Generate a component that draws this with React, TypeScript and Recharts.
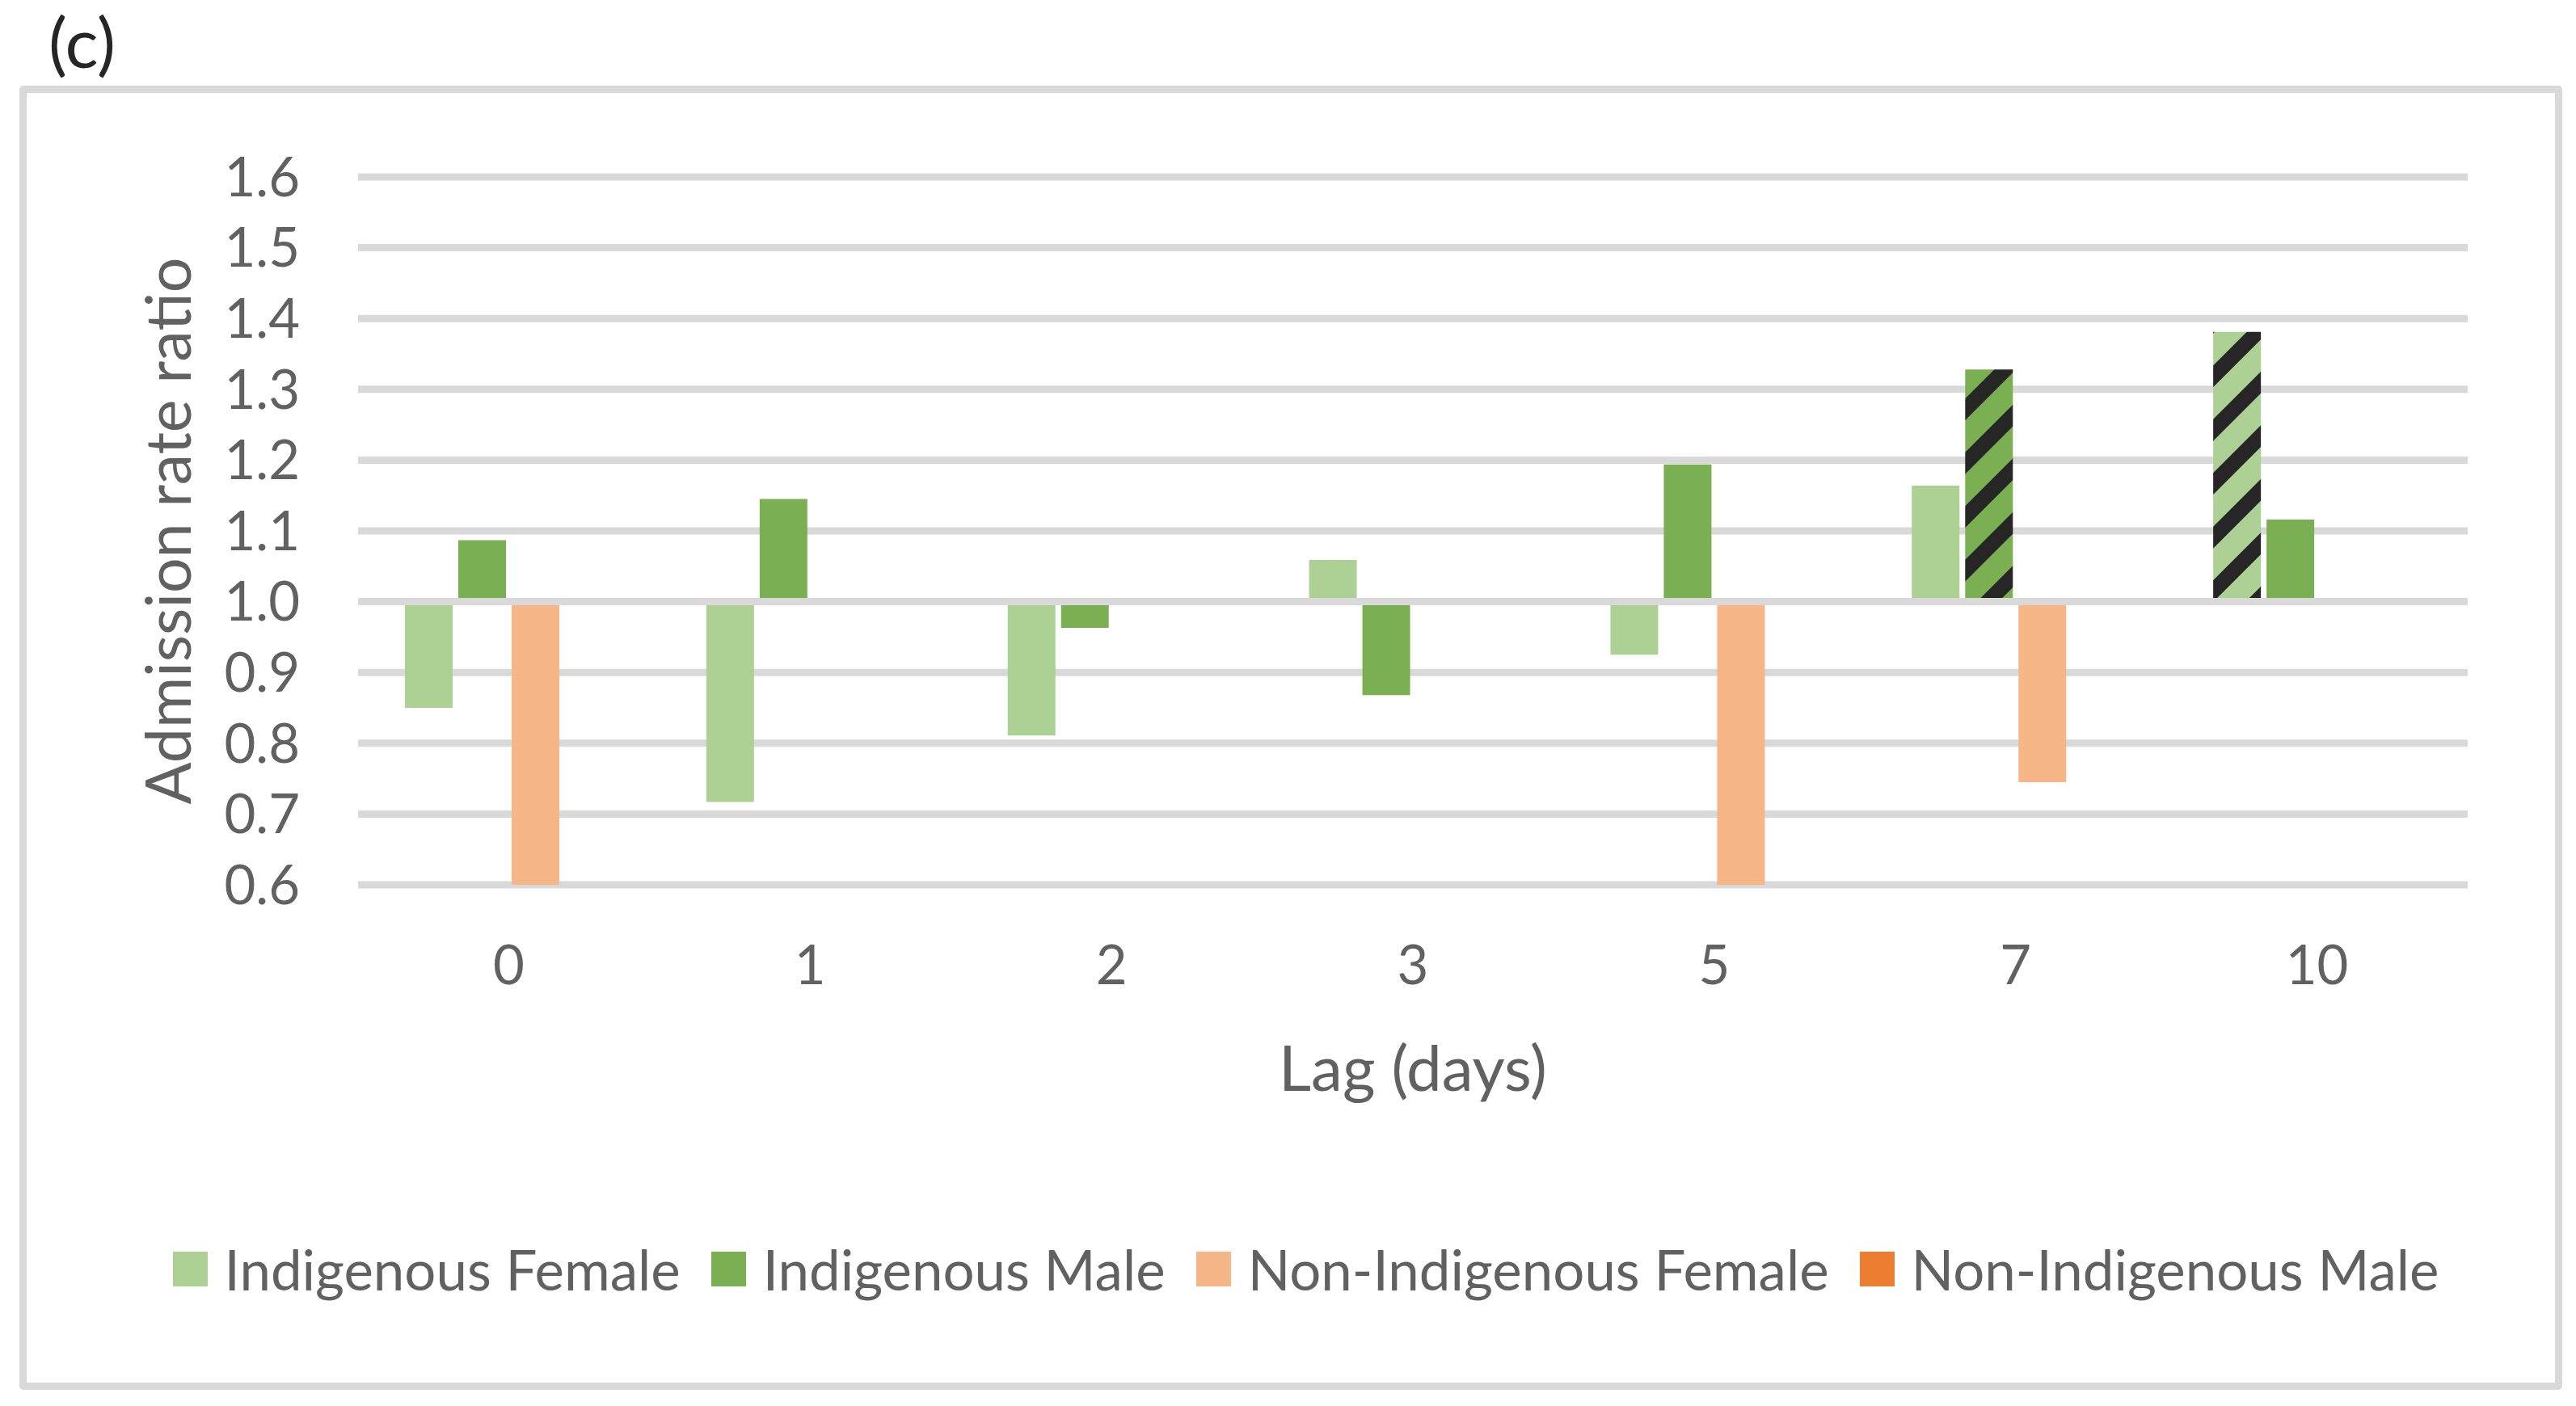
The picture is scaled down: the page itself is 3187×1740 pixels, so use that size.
import React from "react";
import { BarChart, Bar, XAxis, YAxis, CartesianGrid, Legend, ReferenceLine, Cell } from "recharts";

// Lag categories and admission rate ratios
const lags = ["0", "1", "2", "3", "5", "7", "10"];
const indigenousFemale = [0.85, 0.717, 0.811, 1.059, 0.925, 1.164, 1.381];
const indigenousMale = [1.087, 1.145, 0.963, 0.868, 1.194, 1.328, 1.116];
const nonIndigenousFemale = [0.6, null, null, null, 0.6, 0.745, null];
const nonIndigenousMale: (number | null)[] = [null, null, null, null, null, null, null];

// bars drawn with the hatched (significant) fill
const hatchFemale = [false, false, false, false, false, false, true];
const hatchMale = [false, false, false, false, false, true, false];

const yTicks = [0.6, 0.7, 0.8, 0.9, 1.0, 1.1, 1.2, 1.3, 1.4, 1.5, 1.6];

const LIGHT_GREEN = "#ADD195";
const DARK_GREEN = "#7AB052";
const LIGHT_ORANGE = "#F6B688";
const DARK_ORANGE = "#ED7D31";
const GRID = "#D9D9D9";
const TEXT = "#616161";
const FONT = "Lato, 'Noto Sans', sans-serif";

// bars hang from the 1.0 line, so each value becomes a [low, high] range
const toRange = (v: number | null) => (v == null ? null : [Math.min(1, v), Math.max(1, v)]);

const data = lags.map((lag, i) => ({
  lag,
  IF: toRange(indigenousFemale[i]),
  IM: toRange(indigenousMale[i]),
  NIF: toRange(nonIndigenousFemale[i]),
  NIM: toRange(nonIndigenousMale[i]),
}));

const renderLegend = (props: any) => {
  const items = props.payload || [];
  return (
    <div style={{ display: "flex", justifyContent: "center", alignItems: "center", height: 90, fontFamily: FONT }}>
      {items.map((entry: any, i: number) => (
        <div key={i} style={{ display: "flex", alignItems: "center", marginRight: i < items.length - 1 ? 38 : 0 }}>
          <div style={{ width: 43, height: 43, background: entry.color, marginRight: 21 }} />
          <span style={{ fontSize: 69, color: TEXT, lineHeight: 1 }}>{entry.value}</span>
        </div>
      ))}
    </div>
  );
};

export default function App() {
  return (
    <div style={{ position: "absolute", left: 0, top: 0, width: 3187, height: 1740, background: "#fff", fontFamily: FONT }}>
      <div style={{ position: "absolute", left: 60, top: 8, fontSize: 86, lineHeight: 1, color: "#262626" }}>(c)</div>
      <div
        style={{
          position: "absolute",
          left: 24,
          top: 106,
          width: 3128,
          height: 1596,
          border: `9px solid ${GRID}`,
          borderRadius: 5,
        }}
      />
      <div style={{ position: "absolute", left: 0, top: 0 }}>
        <BarChart
          width={3187}
          height={1740}
          data={data}
          margin={{ top: 219, right: 134, bottom: 345, left: 0 }}
          barCategoryGap={58}
          barGap={7}
        >
          <defs>
            <pattern id="hatchMale" patternUnits="userSpaceOnUse" width={47} height={47} patternTransform="rotate(45)">
              <rect width={47} height={47} fill={DARK_GREEN} />
              <rect width={19} height={47} fill="#262626" />
            </pattern>
            <pattern id="hatchFemale" patternUnits="userSpaceOnUse" width={47} height={47} patternTransform="rotate(45)">
              <rect width={47} height={47} fill={LIGHT_GREEN} />
              <rect width={19} height={47} fill="#262626" />
            </pattern>
          </defs>
          <CartesianGrid vertical={false} stroke={GRID} strokeWidth={9} />
          <XAxis
            dataKey="lag"
            axisLine={false}
            tickLine={false}
            tickSize={0}
            tickMargin={75}
            height={300}
            tick={{ fontSize: 67, fill: TEXT, fontFamily: FONT }}
            label={{ value: "Lag (days)", position: "insideBottom", offset: 45, fontSize: 78, fill: TEXT, fontFamily: FONT }}
          />
          <YAxis
            domain={[0.6, 1.6]}
            ticks={yTicks}
            interval={0}
            axisLine={false}
            tickLine={false}
            tickSize={0}
            tickMargin={72}
            width={443}
            tickFormatter={(v: number) => v.toFixed(1)}
            tick={{ fontSize: 67, fill: TEXT, fontFamily: FONT }}
            label={{
              value: "Admission rate ratio",
              angle: -90,
              position: "insideLeft",
              offset: 209,
              fontSize: 77,
              fill: TEXT,
              fontFamily: FONT,
              style: { textAnchor: "middle" },
            }}
          />
          <Legend
            layout="horizontal"
            verticalAlign="middle"
            align="center"
            content={renderLegend}
            wrapperStyle={{ top: 1525, left: 22, width: 3187, height: 90 }}
          />
          <Bar dataKey="IF" name="Indigenous Female" fill={LIGHT_GREEN} isAnimationActive={false}>
            {data.map((_, i) => (
              <Cell key={`if-${i}`} fill={hatchFemale[i] ? "url(#hatchFemale)" : LIGHT_GREEN} />
            ))}
          </Bar>
          <Bar dataKey="IM" name="Indigenous Male" fill={DARK_GREEN} isAnimationActive={false}>
            {data.map((_, i) => (
              <Cell key={`im-${i}`} fill={hatchMale[i] ? "url(#hatchMale)" : DARK_GREEN} />
            ))}
          </Bar>
          <Bar dataKey="NIF" name="Non-Indigenous Female" fill={LIGHT_ORANGE} isAnimationActive={false} />
          <Bar dataKey="NIM" name="Non-Indigenous Male" fill={DARK_ORANGE} isAnimationActive={false} />
          <ReferenceLine y={1} stroke={GRID} strokeWidth={9} />
        </BarChart>
      </div>
    </div>
  );
}
